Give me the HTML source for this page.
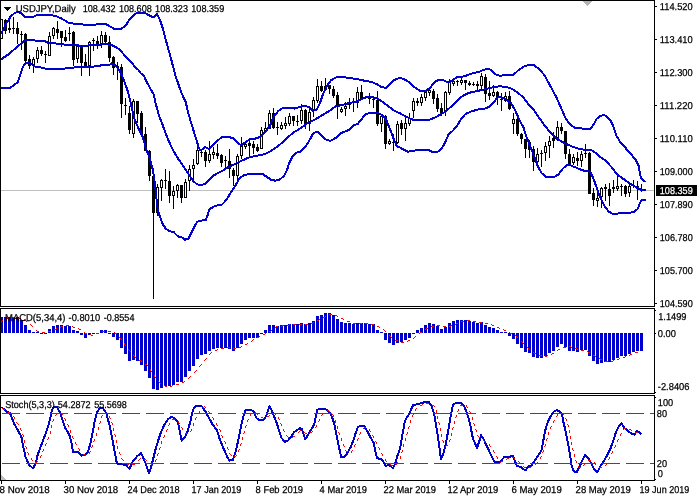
<!DOCTYPE html>
<html lang="en"><head><meta charset="utf-8"><title>USDJPY Daily</title>
<style>html,body{margin:0;padding:0;background:#fff;overflow:hidden}svg{display:block}text{font-family:"Liberation Sans",sans-serif;white-space:pre;text-rendering:geometricPrecision;stroke-width:0.25px}</style></head><body>
<svg width="700" height="500" viewBox="0 0 700 500">
<rect x="0" y="0" width="700" height="500" fill="#fff"/>
<g shape-rendering="crispEdges">
<rect x="1" y="190" width="653" height="1" fill="#c0c0c0"/>
<polygon points="583,1 592.5,1 587.75,6" fill="#b4b4b4"/>
<polygon points="1,475 1,480 6,480" fill="#c0c0c0"/>
<rect x="1" y="19" width="1" height="20" fill="#000"/>
<rect x="0" y="19" width="3" height="20" fill="#000"/>
<rect x="1" y="20" width="1" height="18" fill="#fff"/>
<rect x="5" y="19" width="1" height="15" fill="#000"/>
<rect x="4" y="20" width="3" height="11" fill="#000"/>
<rect x="9" y="16" width="1" height="17" fill="#000"/>
<rect x="8" y="28" width="3" height="2" fill="#000"/>
<rect x="13" y="17" width="1" height="17" fill="#000"/>
<rect x="12" y="28" width="3" height="1" fill="#000"/>
<rect x="17" y="22" width="1" height="22" fill="#000"/>
<rect x="16" y="28" width="3" height="6" fill="#000"/>
<rect x="21" y="31" width="1" height="19" fill="#000"/>
<rect x="20" y="34" width="3" height="1" fill="#000"/>
<rect x="25" y="33" width="1" height="29" fill="#000"/>
<rect x="24" y="34" width="3" height="27" fill="#000"/>
<rect x="29" y="55" width="1" height="14" fill="#000"/>
<rect x="28" y="59" width="3" height="7" fill="#000"/>
<rect x="33" y="57" width="1" height="16" fill="#000"/>
<rect x="32" y="59" width="3" height="6" fill="#000"/>
<rect x="33" y="60" width="1" height="4" fill="#fff"/>
<rect x="37" y="47" width="1" height="16" fill="#000"/>
<rect x="36" y="50" width="3" height="9" fill="#000"/>
<rect x="37" y="51" width="1" height="7" fill="#fff"/>
<rect x="41" y="46" width="1" height="10" fill="#000"/>
<rect x="40" y="50" width="3" height="4" fill="#000"/>
<rect x="45" y="51" width="1" height="12" fill="#000"/>
<rect x="44" y="54" width="3" height="1" fill="#000"/>
<rect x="49" y="32" width="1" height="24" fill="#000"/>
<rect x="48" y="36" width="3" height="20" fill="#000"/>
<rect x="49" y="37" width="1" height="18" fill="#fff"/>
<rect x="53" y="27" width="1" height="12" fill="#000"/>
<rect x="52" y="28" width="3" height="8" fill="#000"/>
<rect x="53" y="29" width="1" height="6" fill="#fff"/>
<rect x="57" y="21" width="1" height="18" fill="#000"/>
<rect x="56" y="29" width="3" height="4" fill="#000"/>
<rect x="61" y="31" width="1" height="16" fill="#000"/>
<rect x="60" y="31" width="3" height="7" fill="#000"/>
<rect x="65" y="30" width="1" height="12" fill="#000"/>
<rect x="64" y="37" width="3" height="4" fill="#000"/>
<rect x="69" y="27" width="1" height="14" fill="#000"/>
<rect x="68" y="33" width="3" height="1" fill="#000"/>
<rect x="73" y="31" width="1" height="35" fill="#000"/>
<rect x="72" y="32" width="3" height="28" fill="#000"/>
<rect x="77" y="46" width="1" height="17" fill="#000"/>
<rect x="76" y="46" width="3" height="13" fill="#000"/>
<rect x="77" y="47" width="1" height="11" fill="#fff"/>
<rect x="81" y="46" width="1" height="30" fill="#000"/>
<rect x="80" y="46" width="3" height="17" fill="#000"/>
<rect x="85" y="54" width="1" height="12" fill="#000"/>
<rect x="84" y="62" width="3" height="4" fill="#000"/>
<rect x="89" y="41" width="1" height="35" fill="#000"/>
<rect x="88" y="42" width="3" height="24" fill="#000"/>
<rect x="89" y="43" width="1" height="22" fill="#fff"/>
<rect x="93" y="38" width="1" height="13" fill="#000"/>
<rect x="92" y="40" width="3" height="1" fill="#000"/>
<rect x="97" y="36" width="1" height="13" fill="#000"/>
<rect x="96" y="41" width="3" height="4" fill="#000"/>
<rect x="101" y="31" width="1" height="17" fill="#000"/>
<rect x="100" y="35" width="3" height="9" fill="#000"/>
<rect x="101" y="36" width="1" height="7" fill="#fff"/>
<rect x="105" y="32" width="1" height="11" fill="#000"/>
<rect x="104" y="35" width="3" height="7" fill="#000"/>
<rect x="109" y="36" width="1" height="26" fill="#000"/>
<rect x="108" y="42" width="3" height="16" fill="#000"/>
<rect x="113" y="56" width="1" height="19" fill="#000"/>
<rect x="112" y="57" width="3" height="11" fill="#000"/>
<rect x="117" y="62" width="1" height="18" fill="#000"/>
<rect x="116" y="66" width="3" height="2" fill="#000"/>
<rect x="121" y="64" width="1" height="54" fill="#000"/>
<rect x="120" y="67" width="3" height="37" fill="#000"/>
<rect x="125" y="98" width="1" height="17" fill="#000"/>
<rect x="124" y="105" width="3" height="1" fill="#000"/>
<rect x="129" y="106" width="1" height="28" fill="#000"/>
<rect x="128" y="113" width="3" height="17" fill="#000"/>
<rect x="133" y="99" width="1" height="39" fill="#000"/>
<rect x="132" y="101" width="3" height="33" fill="#000"/>
<rect x="133" y="102" width="1" height="31" fill="#fff"/>
<rect x="137" y="101" width="1" height="22" fill="#000"/>
<rect x="136" y="101" width="3" height="13" fill="#000"/>
<rect x="141" y="111" width="1" height="24" fill="#000"/>
<rect x="140" y="113" width="3" height="21" fill="#000"/>
<rect x="145" y="127" width="1" height="24" fill="#000"/>
<rect x="144" y="134" width="3" height="17" fill="#000"/>
<rect x="149" y="150" width="1" height="31" fill="#000"/>
<rect x="148" y="151" width="3" height="25" fill="#000"/>
<rect x="153" y="175" width="1" height="124" fill="#000"/>
<rect x="152" y="176" width="3" height="37" fill="#000"/>
<rect x="157" y="184" width="1" height="32" fill="#000"/>
<rect x="156" y="187" width="3" height="26" fill="#000"/>
<rect x="157" y="188" width="1" height="24" fill="#fff"/>
<rect x="161" y="179" width="1" height="22" fill="#000"/>
<rect x="160" y="180" width="3" height="8" fill="#000"/>
<rect x="161" y="181" width="1" height="6" fill="#fff"/>
<rect x="165" y="169" width="1" height="20" fill="#000"/>
<rect x="164" y="180" width="3" height="1" fill="#000"/>
<rect x="169" y="171" width="1" height="32" fill="#000"/>
<rect x="168" y="181" width="3" height="15" fill="#000"/>
<rect x="173" y="186" width="1" height="23" fill="#000"/>
<rect x="172" y="191" width="3" height="5" fill="#000"/>
<rect x="173" y="192" width="1" height="3" fill="#fff"/>
<rect x="177" y="184" width="1" height="14" fill="#000"/>
<rect x="176" y="185" width="3" height="6" fill="#000"/>
<rect x="177" y="186" width="1" height="4" fill="#fff"/>
<rect x="181" y="185" width="1" height="18" fill="#000"/>
<rect x="180" y="185" width="3" height="13" fill="#000"/>
<rect x="185" y="179" width="1" height="19" fill="#000"/>
<rect x="184" y="182" width="3" height="16" fill="#000"/>
<rect x="185" y="183" width="1" height="14" fill="#fff"/>
<rect x="189" y="165" width="1" height="26" fill="#000"/>
<rect x="188" y="169" width="3" height="12" fill="#000"/>
<rect x="189" y="170" width="1" height="10" fill="#fff"/>
<rect x="193" y="159" width="1" height="22" fill="#000"/>
<rect x="192" y="165" width="3" height="4" fill="#000"/>
<rect x="193" y="166" width="1" height="2" fill="#fff"/>
<rect x="197" y="147" width="1" height="18" fill="#000"/>
<rect x="196" y="150" width="3" height="14" fill="#000"/>
<rect x="197" y="151" width="1" height="12" fill="#fff"/>
<rect x="201" y="149" width="1" height="8" fill="#000"/>
<rect x="200" y="152" width="3" height="1" fill="#000"/>
<rect x="205" y="150" width="1" height="17" fill="#000"/>
<rect x="204" y="152" width="3" height="9" fill="#000"/>
<rect x="209" y="141" width="1" height="22" fill="#000"/>
<rect x="208" y="154" width="3" height="7" fill="#000"/>
<rect x="209" y="155" width="1" height="5" fill="#fff"/>
<rect x="213" y="147" width="1" height="12" fill="#000"/>
<rect x="212" y="152" width="3" height="3" fill="#000"/>
<rect x="213" y="153" width="1" height="1" fill="#fff"/>
<rect x="217" y="144" width="1" height="15" fill="#000"/>
<rect x="216" y="153" width="3" height="3" fill="#000"/>
<rect x="221" y="154" width="1" height="13" fill="#000"/>
<rect x="220" y="155" width="3" height="8" fill="#000"/>
<rect x="225" y="156" width="1" height="13" fill="#000"/>
<rect x="224" y="160" width="3" height="1" fill="#000"/>
<rect x="229" y="149" width="1" height="29" fill="#000"/>
<rect x="228" y="161" width="3" height="8" fill="#000"/>
<rect x="233" y="168" width="1" height="18" fill="#000"/>
<rect x="232" y="170" width="3" height="6" fill="#000"/>
<rect x="237" y="154" width="1" height="27" fill="#000"/>
<rect x="236" y="156" width="3" height="20" fill="#000"/>
<rect x="237" y="157" width="1" height="18" fill="#fff"/>
<rect x="241" y="137" width="1" height="22" fill="#000"/>
<rect x="240" y="146" width="3" height="10" fill="#000"/>
<rect x="241" y="147" width="1" height="8" fill="#fff"/>
<rect x="245" y="141" width="1" height="8" fill="#000"/>
<rect x="244" y="144" width="3" height="3" fill="#000"/>
<rect x="245" y="145" width="1" height="1" fill="#fff"/>
<rect x="249" y="141" width="1" height="15" fill="#000"/>
<rect x="248" y="143" width="3" height="3" fill="#000"/>
<rect x="253" y="141" width="1" height="13" fill="#000"/>
<rect x="252" y="144" width="3" height="4" fill="#000"/>
<rect x="257" y="144" width="1" height="8" fill="#000"/>
<rect x="256" y="147" width="3" height="4" fill="#000"/>
<rect x="261" y="127" width="1" height="22" fill="#000"/>
<rect x="260" y="130" width="3" height="19" fill="#000"/>
<rect x="261" y="131" width="1" height="17" fill="#fff"/>
<rect x="265" y="122" width="1" height="9" fill="#000"/>
<rect x="264" y="128" width="3" height="3" fill="#000"/>
<rect x="265" y="129" width="1" height="1" fill="#fff"/>
<rect x="269" y="110" width="1" height="19" fill="#000"/>
<rect x="268" y="113" width="3" height="16" fill="#000"/>
<rect x="269" y="114" width="1" height="14" fill="#fff"/>
<rect x="273" y="108" width="1" height="21" fill="#000"/>
<rect x="272" y="113" width="3" height="15" fill="#000"/>
<rect x="277" y="122" width="1" height="13" fill="#000"/>
<rect x="276" y="127" width="3" height="1" fill="#000"/>
<rect x="281" y="122" width="1" height="8" fill="#000"/>
<rect x="280" y="125" width="3" height="4" fill="#000"/>
<rect x="281" y="126" width="1" height="2" fill="#fff"/>
<rect x="285" y="117" width="1" height="12" fill="#000"/>
<rect x="284" y="123" width="3" height="3" fill="#000"/>
<rect x="285" y="124" width="1" height="1" fill="#fff"/>
<rect x="289" y="113" width="1" height="13" fill="#000"/>
<rect x="288" y="116" width="3" height="8" fill="#000"/>
<rect x="289" y="117" width="1" height="6" fill="#fff"/>
<rect x="293" y="116" width="1" height="10" fill="#000"/>
<rect x="292" y="116" width="3" height="5" fill="#000"/>
<rect x="297" y="115" width="1" height="11" fill="#000"/>
<rect x="296" y="121" width="3" height="1" fill="#000"/>
<rect x="301" y="104" width="1" height="20" fill="#000"/>
<rect x="300" y="110" width="3" height="11" fill="#000"/>
<rect x="301" y="111" width="1" height="9" fill="#fff"/>
<rect x="305" y="109" width="1" height="20" fill="#000"/>
<rect x="304" y="110" width="3" height="15" fill="#000"/>
<rect x="309" y="109" width="1" height="22" fill="#000"/>
<rect x="308" y="112" width="3" height="12" fill="#000"/>
<rect x="309" y="113" width="1" height="10" fill="#fff"/>
<rect x="313" y="97" width="1" height="20" fill="#000"/>
<rect x="312" y="100" width="3" height="11" fill="#000"/>
<rect x="313" y="101" width="1" height="9" fill="#fff"/>
<rect x="317" y="79" width="1" height="24" fill="#000"/>
<rect x="316" y="86" width="3" height="15" fill="#000"/>
<rect x="317" y="87" width="1" height="13" fill="#fff"/>
<rect x="321" y="81" width="1" height="11" fill="#000"/>
<rect x="320" y="86" width="3" height="5" fill="#000"/>
<rect x="325" y="78" width="1" height="13" fill="#000"/>
<rect x="324" y="86" width="3" height="4" fill="#000"/>
<rect x="325" y="87" width="1" height="2" fill="#fff"/>
<rect x="329" y="85" width="1" height="9" fill="#000"/>
<rect x="328" y="85" width="3" height="4" fill="#000"/>
<rect x="333" y="86" width="1" height="12" fill="#000"/>
<rect x="332" y="89" width="3" height="7" fill="#000"/>
<rect x="337" y="92" width="1" height="27" fill="#000"/>
<rect x="336" y="95" width="3" height="12" fill="#000"/>
<rect x="341" y="107" width="1" height="6" fill="#000"/>
<rect x="340" y="109" width="3" height="3" fill="#000"/>
<rect x="341" y="110" width="1" height="1" fill="#fff"/>
<rect x="345" y="102" width="1" height="14" fill="#000"/>
<rect x="344" y="106" width="3" height="3" fill="#000"/>
<rect x="345" y="107" width="1" height="1" fill="#fff"/>
<rect x="349" y="98" width="1" height="11" fill="#000"/>
<rect x="348" y="102" width="3" height="3" fill="#000"/>
<rect x="353" y="98" width="1" height="14" fill="#000"/>
<rect x="352" y="102" width="3" height="1" fill="#000"/>
<rect x="357" y="87" width="1" height="21" fill="#000"/>
<rect x="356" y="92" width="3" height="11" fill="#000"/>
<rect x="357" y="93" width="1" height="9" fill="#fff"/>
<rect x="361" y="85" width="1" height="14" fill="#000"/>
<rect x="360" y="92" width="3" height="7" fill="#000"/>
<rect x="365" y="96" width="1" height="3" fill="#000"/>
<rect x="364" y="97" width="3" height="1" fill="#000"/>
<rect x="369" y="93" width="1" height="11" fill="#000"/>
<rect x="368" y="98" width="3" height="1" fill="#000"/>
<rect x="373" y="97" width="1" height="11" fill="#000"/>
<rect x="372" y="99" width="3" height="1" fill="#000"/>
<rect x="377" y="91" width="1" height="35" fill="#000"/>
<rect x="376" y="100" width="3" height="24" fill="#000"/>
<rect x="381" y="116" width="1" height="16" fill="#000"/>
<rect x="380" y="116" width="3" height="8" fill="#000"/>
<rect x="381" y="117" width="1" height="6" fill="#fff"/>
<rect x="385" y="115" width="1" height="34" fill="#000"/>
<rect x="384" y="116" width="3" height="28" fill="#000"/>
<rect x="389" y="139" width="1" height="6" fill="#000"/>
<rect x="388" y="141" width="3" height="3" fill="#000"/>
<rect x="389" y="142" width="1" height="1" fill="#fff"/>
<rect x="393" y="134" width="1" height="17" fill="#000"/>
<rect x="392" y="142" width="3" height="1" fill="#000"/>
<rect x="397" y="121" width="1" height="23" fill="#000"/>
<rect x="396" y="124" width="3" height="19" fill="#000"/>
<rect x="397" y="125" width="1" height="17" fill="#fff"/>
<rect x="401" y="120" width="1" height="15" fill="#000"/>
<rect x="400" y="123" width="3" height="6" fill="#000"/>
<rect x="405" y="118" width="1" height="23" fill="#000"/>
<rect x="404" y="123" width="3" height="6" fill="#000"/>
<rect x="405" y="124" width="1" height="4" fill="#fff"/>
<rect x="409" y="113" width="1" height="13" fill="#000"/>
<rect x="408" y="118" width="3" height="6" fill="#000"/>
<rect x="409" y="119" width="1" height="4" fill="#fff"/>
<rect x="413" y="98" width="1" height="20" fill="#000"/>
<rect x="412" y="101" width="3" height="10" fill="#000"/>
<rect x="413" y="102" width="1" height="8" fill="#fff"/>
<rect x="417" y="98" width="1" height="8" fill="#000"/>
<rect x="416" y="101" width="3" height="2" fill="#000"/>
<rect x="421" y="94" width="1" height="12" fill="#000"/>
<rect x="420" y="97" width="3" height="6" fill="#000"/>
<rect x="421" y="98" width="1" height="4" fill="#fff"/>
<rect x="425" y="91" width="1" height="10" fill="#000"/>
<rect x="424" y="92" width="3" height="6" fill="#000"/>
<rect x="425" y="93" width="1" height="4" fill="#fff"/>
<rect x="429" y="87" width="1" height="9" fill="#000"/>
<rect x="428" y="90" width="3" height="3" fill="#000"/>
<rect x="429" y="91" width="1" height="1" fill="#fff"/>
<rect x="433" y="89" width="1" height="15" fill="#000"/>
<rect x="432" y="91" width="3" height="8" fill="#000"/>
<rect x="437" y="94" width="1" height="18" fill="#000"/>
<rect x="436" y="98" width="3" height="11" fill="#000"/>
<rect x="441" y="103" width="1" height="13" fill="#000"/>
<rect x="440" y="108" width="3" height="5" fill="#000"/>
<rect x="445" y="91" width="1" height="25" fill="#000"/>
<rect x="444" y="92" width="3" height="19" fill="#000"/>
<rect x="445" y="93" width="1" height="17" fill="#fff"/>
<rect x="449" y="79" width="1" height="16" fill="#000"/>
<rect x="448" y="82" width="3" height="11" fill="#000"/>
<rect x="449" y="83" width="1" height="9" fill="#fff"/>
<rect x="453" y="80" width="1" height="6" fill="#000"/>
<rect x="452" y="81" width="3" height="3" fill="#000"/>
<rect x="453" y="82" width="1" height="1" fill="#fff"/>
<rect x="457" y="80" width="1" height="6" fill="#000"/>
<rect x="456" y="81" width="3" height="1" fill="#000"/>
<rect x="461" y="78" width="1" height="7" fill="#000"/>
<rect x="460" y="80" width="3" height="3" fill="#000"/>
<rect x="461" y="81" width="1" height="1" fill="#fff"/>
<rect x="465" y="80" width="1" height="10" fill="#000"/>
<rect x="464" y="80" width="3" height="3" fill="#000"/>
<rect x="469" y="81" width="1" height="5" fill="#000"/>
<rect x="468" y="83" width="3" height="2" fill="#000"/>
<rect x="473" y="82" width="1" height="4" fill="#000"/>
<rect x="472" y="84" width="3" height="1" fill="#000"/>
<rect x="477" y="81" width="1" height="9" fill="#000"/>
<rect x="476" y="84" width="3" height="2" fill="#000"/>
<rect x="481" y="73" width="1" height="16" fill="#000"/>
<rect x="480" y="76" width="3" height="10" fill="#000"/>
<rect x="481" y="77" width="1" height="8" fill="#fff"/>
<rect x="485" y="74" width="1" height="28" fill="#000"/>
<rect x="484" y="77" width="3" height="17" fill="#000"/>
<rect x="489" y="81" width="1" height="19" fill="#000"/>
<rect x="488" y="93" width="3" height="3" fill="#000"/>
<rect x="493" y="85" width="1" height="12" fill="#000"/>
<rect x="492" y="92" width="3" height="4" fill="#000"/>
<rect x="493" y="93" width="1" height="2" fill="#fff"/>
<rect x="497" y="91" width="1" height="14" fill="#000"/>
<rect x="496" y="92" width="3" height="5" fill="#000"/>
<rect x="501" y="93" width="1" height="18" fill="#000"/>
<rect x="500" y="99" width="3" height="1" fill="#000"/>
<rect x="505" y="92" width="1" height="10" fill="#000"/>
<rect x="504" y="96" width="3" height="5" fill="#000"/>
<rect x="505" y="97" width="1" height="3" fill="#fff"/>
<rect x="509" y="91" width="1" height="19" fill="#000"/>
<rect x="508" y="96" width="3" height="13" fill="#000"/>
<rect x="513" y="113" width="1" height="21" fill="#000"/>
<rect x="512" y="119" width="3" height="5" fill="#000"/>
<rect x="513" y="120" width="1" height="3" fill="#fff"/>
<rect x="517" y="117" width="1" height="19" fill="#000"/>
<rect x="516" y="119" width="3" height="15" fill="#000"/>
<rect x="521" y="133" width="1" height="11" fill="#000"/>
<rect x="520" y="134" width="3" height="5" fill="#000"/>
<rect x="525" y="139" width="1" height="19" fill="#000"/>
<rect x="524" y="139" width="3" height="10" fill="#000"/>
<rect x="529" y="140" width="1" height="18" fill="#000"/>
<rect x="528" y="142" width="3" height="8" fill="#000"/>
<rect x="533" y="146" width="1" height="25" fill="#000"/>
<rect x="532" y="149" width="3" height="13" fill="#000"/>
<rect x="537" y="148" width="1" height="17" fill="#000"/>
<rect x="536" y="154" width="3" height="8" fill="#000"/>
<rect x="537" y="155" width="1" height="6" fill="#fff"/>
<rect x="541" y="150" width="1" height="17" fill="#000"/>
<rect x="540" y="153" width="3" height="1" fill="#000"/>
<rect x="545" y="142" width="1" height="19" fill="#000"/>
<rect x="544" y="146" width="3" height="7" fill="#000"/>
<rect x="545" y="147" width="1" height="5" fill="#fff"/>
<rect x="549" y="136" width="1" height="22" fill="#000"/>
<rect x="548" y="141" width="3" height="5" fill="#000"/>
<rect x="549" y="142" width="1" height="3" fill="#fff"/>
<rect x="553" y="132" width="1" height="16" fill="#000"/>
<rect x="552" y="138" width="3" height="3" fill="#000"/>
<rect x="557" y="121" width="1" height="20" fill="#000"/>
<rect x="556" y="127" width="3" height="11" fill="#000"/>
<rect x="557" y="128" width="1" height="9" fill="#fff"/>
<rect x="561" y="123" width="1" height="11" fill="#000"/>
<rect x="560" y="127" width="3" height="4" fill="#000"/>
<rect x="565" y="131" width="1" height="28" fill="#000"/>
<rect x="564" y="131" width="3" height="23" fill="#000"/>
<rect x="569" y="149" width="1" height="15" fill="#000"/>
<rect x="568" y="154" width="3" height="10" fill="#000"/>
<rect x="573" y="154" width="1" height="11" fill="#000"/>
<rect x="572" y="157" width="3" height="6" fill="#000"/>
<rect x="573" y="158" width="1" height="4" fill="#fff"/>
<rect x="577" y="152" width="1" height="14" fill="#000"/>
<rect x="576" y="158" width="3" height="3" fill="#000"/>
<rect x="581" y="151" width="1" height="16" fill="#000"/>
<rect x="580" y="154" width="3" height="7" fill="#000"/>
<rect x="581" y="155" width="1" height="5" fill="#fff"/>
<rect x="585" y="144" width="1" height="14" fill="#000"/>
<rect x="584" y="153" width="3" height="1" fill="#000"/>
<rect x="589" y="152" width="1" height="42" fill="#000"/>
<rect x="588" y="153" width="3" height="41" fill="#000"/>
<rect x="593" y="188" width="1" height="18" fill="#000"/>
<rect x="592" y="193" width="3" height="7" fill="#000"/>
<rect x="597" y="192" width="1" height="15" fill="#000"/>
<rect x="596" y="198" width="3" height="3" fill="#000"/>
<rect x="597" y="199" width="1" height="1" fill="#fff"/>
<rect x="601" y="187" width="1" height="21" fill="#000"/>
<rect x="600" y="188" width="3" height="9" fill="#000"/>
<rect x="601" y="189" width="1" height="7" fill="#fff"/>
<rect x="605" y="184" width="1" height="17" fill="#000"/>
<rect x="604" y="187" width="3" height="2" fill="#000"/>
<rect x="609" y="183" width="1" height="23" fill="#000"/>
<rect x="608" y="189" width="3" height="7" fill="#000"/>
<rect x="613" y="180" width="1" height="13" fill="#000"/>
<rect x="612" y="187" width="3" height="2" fill="#000"/>
<rect x="617" y="176" width="1" height="15" fill="#000"/>
<rect x="616" y="186" width="3" height="3" fill="#000"/>
<rect x="617" y="187" width="1" height="1" fill="#fff"/>
<rect x="621" y="184" width="1" height="12" fill="#000"/>
<rect x="620" y="186" width="3" height="1" fill="#000"/>
<rect x="625" y="185" width="1" height="12" fill="#000"/>
<rect x="624" y="186" width="3" height="8" fill="#000"/>
<rect x="629" y="184" width="1" height="13" fill="#000"/>
<rect x="628" y="186" width="3" height="7" fill="#000"/>
<rect x="629" y="187" width="1" height="5" fill="#fff"/>
<rect x="633" y="180" width="1" height="8" fill="#000"/>
<rect x="632" y="185" width="3" height="1" fill="#000"/>
<rect x="637" y="181" width="1" height="19" fill="#000"/>
<rect x="636" y="186" width="3" height="1" fill="#000"/>
<rect x="641" y="184" width="1" height="8" fill="#000"/>
<rect x="640" y="189" width="3" height="1" fill="#000"/>
</g>
<g shape-rendering="crispEdges" stroke-linejoin="round" stroke-linecap="butt">
<polyline points="0.0,34.0 1.7,32.9 5.7,24.3 11.4,15.7 14.9,12.9 17.7,11.7 20.6,12.9 24.6,17.0 33.0,17.0 35.4,15.7 40.0,14.8 47.0,14.7 52.0,15.3 57.0,16.4 62.9,19.3 68.6,22.9 77.0,24.0 85.7,24.7 94.3,24.7 100.0,24.0 105.7,24.0 110.0,26.4 113.6,28.6 121.4,28.6 125.7,25.7 130.0,18.6 134.3,14.3 138.6,12.6 144.3,12.6 148.6,15.0 153.6,17.4 157.0,14.3 160.0,20.0 162.9,28.6 167.0,44.3 171.4,60.0 175.7,77.0 177.0,80.0 181.4,92.9 185.7,102.0 188.6,114.3 192.9,128.6 198.6,147.0 200.0,150.0 202.9,149.3 205.0,146.9 209.3,149.3 214.3,143.6 221.4,137.4 228.6,137.0 233.6,138.3 237.9,142.9 241.4,145.4 245.7,142.0 250.0,139.3 257.0,138.3 261.4,135.7 265.7,131.4 270.0,125.7 273.6,117.0 277.9,111.4 282.9,107.9 288.6,107.9 294.3,108.6 300.0,107.0 304.3,105.7 308.6,107.0 312.9,110.7 317.0,109.3 320.0,102.9 322.9,94.3 327.0,85.7 331.4,80.0 335.7,77.6 341.4,76.9 348.6,77.9 357.0,79.0 364.3,80.7 371.4,81.9 377.0,84.3 381.4,87.0 385.7,87.9 390.0,84.3 394.3,80.0 400.0,77.8 405.7,80.0 410.0,82.9 414.3,87.0 420.0,90.7 425.7,91.0 430.0,87.9 434.3,82.6 437.9,80.0 442.9,80.0 448.6,82.6 452.9,80.0 457.0,77.0 464.3,76.4 471.4,73.6 478.6,72.0 484.3,69.7 487.9,68.9 491.4,70.0 495.7,74.3 500.0,76.0 505.7,74.7 513.6,74.7 518.6,70.0 524.3,66.4 528.6,65.0 533.6,65.0 538.6,68.6 544.3,75.0 548.6,82.9 552.9,90.7 557.0,98.6 561.4,108.6 565.7,118.6 570.0,124.3 574.3,127.5 580.0,128.2 584.6,128.8 590.3,128.6 593.7,124.6 596.6,118.9 600.0,116.0 604.0,114.9 607.4,117.0 610.9,121.0 613.7,127.4 616.6,136.0 620.0,141.7 625.7,148.0 627.0,150.0 631.4,154.5 635.7,160.0 638.6,165.7 640.0,174.3 641.4,178.6 643.6,180.7 645.7,182.0" fill="none" stroke="#0000cd" stroke-width="2" />
<polyline points="0.0,60.0 8.6,54.3 17.0,47.0 25.7,40.0 28.6,40.0 37.0,40.7 44.3,41.0 48.6,42.9 57.0,43.6 65.7,44.7 74.3,45.4 85.7,45.7 94.3,45.0 100.0,44.7 103.4,43.9 110.0,44.7 113.0,45.7 114.3,46.4 118.9,49.0 120.0,50.0 124.3,55.0 131.4,62.5 135.4,67.4 138.6,70.0 140.0,72.6 144.3,76.4 145.7,80.0 150.0,87.9 153.6,94.3 155.7,103.6 158.6,114.3 162.9,125.7 167.0,137.0 172.9,150.0 177.0,157.0 182.9,165.7 188.6,174.3 192.9,180.7 197.0,184.3 200.0,184.8 205.0,184.3 208.6,180.0 214.3,175.0 221.4,171.4 228.6,167.0 235.7,163.6 242.9,160.2 250.0,157.0 257.0,155.8 264.3,154.3 270.0,151.5 271.4,150.7 278.6,145.7 285.7,139.3 292.9,132.9 300.0,128.6 307.0,123.6 314.3,120.0 321.4,115.7 328.6,111.4 335.7,106.4 342.9,104.7 350.0,102.9 357.0,101.4 361.4,99.3 365.7,97.4 371.4,97.0 377.0,98.3 382.9,102.0 388.6,106.4 394.3,110.7 400.0,113.3 405.7,116.5 412.9,119.7 421.4,119.7 430.7,119.5 437.0,116.4 445.7,111.4 452.0,105.8 457.0,100.7 462.9,95.7 468.6,92.9 475.7,91.4 482.9,89.7 488.6,88.3 494.3,87.0 500.0,86.3 505.7,86.9 511.4,88.6 517.0,92.0 522.9,97.0 528.6,104.3 534.3,110.7 538.6,117.0 544.3,125.0 550.0,132.0 555.7,137.9 561.4,141.4 567.0,144.3 574.3,147.4 581.4,149.4 588.6,150.0 591.4,150.2 595.7,152.9 601.4,157.9 605.7,160.7 611.4,167.0 617.0,174.3 622.9,178.6 630.0,183.6 635.7,187.0 641.4,190.0 645.7,190.0" fill="none" stroke="#0000cd" stroke-width="2" />
<polyline points="0.0,88.0 10.0,88.0 17.5,82.5 18.6,80.0 22.9,67.0 25.7,62.9 30.0,62.9 34.3,66.4 42.9,67.9 48.6,69.3 60.0,69.3 68.6,67.9 80.0,67.0 88.6,67.0 100.0,65.9 102.3,64.6 109.7,64.6 111.4,63.4 113.4,63.7 116.0,66.3 119.4,70.3 121.7,74.9 123.4,79.0 127.9,91.4 130.7,102.9 134.3,118.6 138.6,128.6 142.9,137.0 145.7,148.0 149.3,157.0 152.9,170.0 155.0,184.3 156.4,198.6 157.9,210.0 160.0,217.0 162.9,224.3 165.7,228.6 170.0,231.4 173.6,232.0 177.9,236.4 181.4,237.0 185.0,239.7 188.6,238.6 191.4,232.9 194.3,227.0 197.0,222.0 200.0,220.7 205.7,220.0 207.9,214.3 209.3,209.3 214.3,206.4 218.6,205.0 222.0,204.6 225.7,200.7 230.7,192.9 235.7,185.0 239.3,178.6 242.9,175.7 248.6,174.0 257.0,173.6 262.9,174.3 267.0,177.0 271.4,180.0 275.7,180.7 280.0,179.3 284.3,175.7 287.0,170.0 289.3,162.9 292.9,155.7 297.0,152.6 300.0,151.8 304.3,147.9 308.6,142.0 312.9,133.6 316.4,131.7 319.3,132.9 322.9,137.0 327.0,140.3 330.7,140.7 335.7,137.9 341.4,132.9 348.6,130.0 353.6,125.0 357.9,124.0 361.4,119.3 365.7,114.0 371.4,112.9 377.9,113.0 382.0,115.0 385.7,118.6 388.6,125.7 391.4,132.9 394.3,140.7 397.0,146.4 400.0,147.5 404.3,150.0 407.9,151.7 412.9,151.0 418.6,149.7 428.6,150.0 432.0,151.7 437.9,151.7 441.4,148.6 445.0,142.9 448.6,134.3 452.9,130.7 457.0,125.7 461.4,118.6 465.7,113.8 471.4,111.4 478.6,109.3 485.7,108.4 490.0,106.2 494.3,102.0 497.0,97.9 500.0,97.0 505.7,99.3 510.7,102.9 514.3,108.5 517.5,115.7 521.0,123.0 523.5,127.5 526.4,137.0 530.0,145.7 534.3,157.0 537.9,166.4 541.4,172.9 545.7,176.9 554.3,177.0 558.6,174.3 562.9,168.6 566.4,165.4 569.3,164.7 574.3,167.0 577.0,167.9 581.4,170.0 584.3,170.7 589.3,170.7 592.0,175.0 595.0,182.9 597.9,191.4 601.4,200.0 605.0,207.0 608.6,211.4 612.0,213.6 617.0,213.6 621.4,212.9 628.6,212.9 634.3,212.0 637.9,208.6 640.0,202.9 642.0,200.0 645.7,199.7" fill="none" stroke="#0000cd" stroke-width="2" />
</g>
<g shape-rendering="crispEdges">
<rect x="0" y="317" width="3" height="16" fill="#0000cd"/>
<rect x="4" y="317" width="3" height="16" fill="#0000cd"/>
<rect x="8" y="317" width="3" height="16" fill="#0000cd"/>
<rect x="12" y="317" width="3" height="16" fill="#0000cd"/>
<rect x="16" y="317" width="3" height="16" fill="#0000cd"/>
<rect x="20" y="320" width="3" height="13" fill="#0000cd"/>
<rect x="24" y="325" width="3" height="8" fill="#0000cd"/>
<rect x="28" y="330" width="3" height="3" fill="#0000cd"/>
<rect x="32" y="332" width="3" height="1" fill="#0000cd"/>
<rect x="36" y="332" width="3" height="1" fill="#0000cd"/>
<rect x="40" y="333" width="3" height="1" fill="#0000cd"/>
<rect x="44" y="333" width="3" height="1" fill="#0000cd"/>
<rect x="48" y="329" width="3" height="4" fill="#0000cd"/>
<rect x="52" y="326" width="3" height="7" fill="#0000cd"/>
<rect x="56" y="325" width="3" height="8" fill="#0000cd"/>
<rect x="60" y="325" width="3" height="8" fill="#0000cd"/>
<rect x="64" y="326" width="3" height="7" fill="#0000cd"/>
<rect x="68" y="326" width="3" height="7" fill="#0000cd"/>
<rect x="72" y="330" width="3" height="3" fill="#0000cd"/>
<rect x="76" y="331" width="3" height="2" fill="#0000cd"/>
<rect x="80" y="333" width="3" height="2" fill="#0000cd"/>
<rect x="84" y="333" width="3" height="5" fill="#0000cd"/>
<rect x="88" y="333" width="3" height="2" fill="#0000cd"/>
<rect x="92" y="333" width="3" height="1" fill="#0000cd"/>
<rect x="96" y="333" width="3" height="1" fill="#0000cd"/>
<rect x="100" y="330" width="3" height="3" fill="#0000cd"/>
<rect x="104" y="330" width="3" height="3" fill="#0000cd"/>
<rect x="108" y="333" width="3" height="1" fill="#0000cd"/>
<rect x="112" y="333" width="3" height="4" fill="#0000cd"/>
<rect x="116" y="333" width="3" height="7" fill="#0000cd"/>
<rect x="120" y="333" width="3" height="15" fill="#0000cd"/>
<rect x="124" y="333" width="3" height="21" fill="#0000cd"/>
<rect x="128" y="333" width="3" height="28" fill="#0000cd"/>
<rect x="132" y="333" width="3" height="27" fill="#0000cd"/>
<rect x="136" y="333" width="3" height="28" fill="#0000cd"/>
<rect x="140" y="333" width="3" height="32" fill="#0000cd"/>
<rect x="144" y="333" width="3" height="38" fill="#0000cd"/>
<rect x="148" y="333" width="3" height="45" fill="#0000cd"/>
<rect x="152" y="333" width="3" height="56" fill="#0000cd"/>
<rect x="156" y="333" width="3" height="57" fill="#0000cd"/>
<rect x="160" y="333" width="3" height="55" fill="#0000cd"/>
<rect x="164" y="333" width="3" height="53" fill="#0000cd"/>
<rect x="168" y="333" width="3" height="53" fill="#0000cd"/>
<rect x="172" y="333" width="3" height="52" fill="#0000cd"/>
<rect x="176" y="333" width="3" height="49" fill="#0000cd"/>
<rect x="180" y="333" width="3" height="49" fill="#0000cd"/>
<rect x="184" y="333" width="3" height="44" fill="#0000cd"/>
<rect x="188" y="333" width="3" height="38" fill="#0000cd"/>
<rect x="192" y="333" width="3" height="33" fill="#0000cd"/>
<rect x="196" y="333" width="3" height="26" fill="#0000cd"/>
<rect x="200" y="333" width="3" height="22" fill="#0000cd"/>
<rect x="204" y="333" width="3" height="21" fill="#0000cd"/>
<rect x="208" y="333" width="3" height="18" fill="#0000cd"/>
<rect x="212" y="333" width="3" height="16" fill="#0000cd"/>
<rect x="216" y="333" width="3" height="15" fill="#0000cd"/>
<rect x="220" y="333" width="3" height="15" fill="#0000cd"/>
<rect x="224" y="333" width="3" height="15" fill="#0000cd"/>
<rect x="228" y="333" width="3" height="16" fill="#0000cd"/>
<rect x="232" y="333" width="3" height="18" fill="#0000cd"/>
<rect x="236" y="333" width="3" height="15" fill="#0000cd"/>
<rect x="240" y="333" width="3" height="11" fill="#0000cd"/>
<rect x="244" y="333" width="3" height="7" fill="#0000cd"/>
<rect x="248" y="333" width="3" height="5" fill="#0000cd"/>
<rect x="252" y="333" width="3" height="5" fill="#0000cd"/>
<rect x="256" y="333" width="3" height="5" fill="#0000cd"/>
<rect x="260" y="333" width="3" height="1" fill="#0000cd"/>
<rect x="264" y="330" width="3" height="3" fill="#0000cd"/>
<rect x="268" y="325" width="3" height="8" fill="#0000cd"/>
<rect x="272" y="325" width="3" height="8" fill="#0000cd"/>
<rect x="276" y="326" width="3" height="7" fill="#0000cd"/>
<rect x="280" y="325" width="3" height="8" fill="#0000cd"/>
<rect x="284" y="325" width="3" height="8" fill="#0000cd"/>
<rect x="288" y="324" width="3" height="9" fill="#0000cd"/>
<rect x="292" y="324" width="3" height="9" fill="#0000cd"/>
<rect x="296" y="324" width="3" height="9" fill="#0000cd"/>
<rect x="300" y="323" width="3" height="10" fill="#0000cd"/>
<rect x="304" y="324" width="3" height="9" fill="#0000cd"/>
<rect x="308" y="323" width="3" height="10" fill="#0000cd"/>
<rect x="312" y="321" width="3" height="12" fill="#0000cd"/>
<rect x="316" y="316" width="3" height="17" fill="#0000cd"/>
<rect x="320" y="315" width="3" height="18" fill="#0000cd"/>
<rect x="324" y="313" width="3" height="20" fill="#0000cd"/>
<rect x="328" y="313" width="3" height="20" fill="#0000cd"/>
<rect x="332" y="315" width="3" height="18" fill="#0000cd"/>
<rect x="336" y="319" width="3" height="14" fill="#0000cd"/>
<rect x="340" y="322" width="3" height="11" fill="#0000cd"/>
<rect x="344" y="323" width="3" height="10" fill="#0000cd"/>
<rect x="348" y="323" width="3" height="10" fill="#0000cd"/>
<rect x="352" y="324" width="3" height="9" fill="#0000cd"/>
<rect x="356" y="323" width="3" height="10" fill="#0000cd"/>
<rect x="360" y="323" width="3" height="10" fill="#0000cd"/>
<rect x="364" y="323" width="3" height="10" fill="#0000cd"/>
<rect x="368" y="324" width="3" height="9" fill="#0000cd"/>
<rect x="372" y="324" width="3" height="9" fill="#0000cd"/>
<rect x="376" y="330" width="3" height="3" fill="#0000cd"/>
<rect x="380" y="332" width="3" height="1" fill="#0000cd"/>
<rect x="384" y="333" width="3" height="7" fill="#0000cd"/>
<rect x="388" y="333" width="3" height="10" fill="#0000cd"/>
<rect x="392" y="333" width="3" height="12" fill="#0000cd"/>
<rect x="396" y="333" width="3" height="10" fill="#0000cd"/>
<rect x="400" y="333" width="3" height="9" fill="#0000cd"/>
<rect x="404" y="333" width="3" height="7" fill="#0000cd"/>
<rect x="408" y="333" width="3" height="5" fill="#0000cd"/>
<rect x="412" y="333" width="3" height="1" fill="#0000cd"/>
<rect x="416" y="330" width="3" height="3" fill="#0000cd"/>
<rect x="420" y="328" width="3" height="5" fill="#0000cd"/>
<rect x="424" y="325" width="3" height="8" fill="#0000cd"/>
<rect x="428" y="323" width="3" height="10" fill="#0000cd"/>
<rect x="432" y="324" width="3" height="9" fill="#0000cd"/>
<rect x="436" y="326" width="3" height="7" fill="#0000cd"/>
<rect x="440" y="329" width="3" height="4" fill="#0000cd"/>
<rect x="444" y="327" width="3" height="6" fill="#0000cd"/>
<rect x="448" y="323" width="3" height="10" fill="#0000cd"/>
<rect x="452" y="321" width="3" height="12" fill="#0000cd"/>
<rect x="456" y="320" width="3" height="13" fill="#0000cd"/>
<rect x="460" y="320" width="3" height="13" fill="#0000cd"/>
<rect x="464" y="320" width="3" height="13" fill="#0000cd"/>
<rect x="468" y="321" width="3" height="12" fill="#0000cd"/>
<rect x="472" y="322" width="3" height="11" fill="#0000cd"/>
<rect x="476" y="323" width="3" height="10" fill="#0000cd"/>
<rect x="480" y="322" width="3" height="11" fill="#0000cd"/>
<rect x="484" y="325" width="3" height="8" fill="#0000cd"/>
<rect x="488" y="327" width="3" height="6" fill="#0000cd"/>
<rect x="492" y="328" width="3" height="5" fill="#0000cd"/>
<rect x="496" y="330" width="3" height="3" fill="#0000cd"/>
<rect x="500" y="332" width="3" height="1" fill="#0000cd"/>
<rect x="504" y="332" width="3" height="1" fill="#0000cd"/>
<rect x="508" y="333" width="3" height="3" fill="#0000cd"/>
<rect x="512" y="333" width="3" height="6" fill="#0000cd"/>
<rect x="516" y="333" width="3" height="11" fill="#0000cd"/>
<rect x="520" y="333" width="3" height="15" fill="#0000cd"/>
<rect x="524" y="333" width="3" height="19" fill="#0000cd"/>
<rect x="528" y="333" width="3" height="20" fill="#0000cd"/>
<rect x="532" y="333" width="3" height="24" fill="#0000cd"/>
<rect x="536" y="333" width="3" height="25" fill="#0000cd"/>
<rect x="540" y="333" width="3" height="25" fill="#0000cd"/>
<rect x="544" y="333" width="3" height="23" fill="#0000cd"/>
<rect x="548" y="333" width="3" height="20" fill="#0000cd"/>
<rect x="552" y="333" width="3" height="18" fill="#0000cd"/>
<rect x="556" y="333" width="3" height="14" fill="#0000cd"/>
<rect x="560" y="333" width="3" height="11" fill="#0000cd"/>
<rect x="564" y="333" width="3" height="14" fill="#0000cd"/>
<rect x="568" y="333" width="3" height="18" fill="#0000cd"/>
<rect x="572" y="333" width="3" height="18" fill="#0000cd"/>
<rect x="576" y="333" width="3" height="19" fill="#0000cd"/>
<rect x="580" y="333" width="3" height="17" fill="#0000cd"/>
<rect x="584" y="333" width="3" height="17" fill="#0000cd"/>
<rect x="588" y="333" width="3" height="23" fill="#0000cd"/>
<rect x="592" y="333" width="3" height="28" fill="#0000cd"/>
<rect x="596" y="333" width="3" height="31" fill="#0000cd"/>
<rect x="600" y="333" width="3" height="30" fill="#0000cd"/>
<rect x="604" y="333" width="3" height="29" fill="#0000cd"/>
<rect x="608" y="333" width="3" height="29" fill="#0000cd"/>
<rect x="612" y="333" width="3" height="27" fill="#0000cd"/>
<rect x="616" y="333" width="3" height="25" fill="#0000cd"/>
<rect x="620" y="333" width="3" height="23" fill="#0000cd"/>
<rect x="624" y="333" width="3" height="23" fill="#0000cd"/>
<rect x="628" y="333" width="3" height="21" fill="#0000cd"/>
<rect x="632" y="333" width="3" height="19" fill="#0000cd"/>
<rect x="636" y="333" width="3" height="18" fill="#0000cd"/>
<rect x="640" y="333" width="3" height="18" fill="#0000cd"/>
</g>
<g shape-rendering="crispEdges">
<path d="M329 314h3v1h-3zM335 315h2v1h-2zM325 316h1v1h-1zM337 316h1v1h-1zM12 317h3v1h-3zM323 317h2v1h-2zM6 318h3v1h-3zM18 318h3v1h-3zM341 318h2v1h-2zM319 319h1v1h-1zM343 319h1v1h-1zM2 320h1v1h-1zM24 320h2v1h-2zM317 320h2v1h-2zM467 320h3v1h-3zM0 321h2v1h-2zM26 321h1v1h-1zM347 321h3v1h-3zM461 321h3v1h-3zM473 321h3v1h-3zM313 322h1v1h-1zM479 322h3v1h-3zM311 323h2v1h-2zM353 323h3v1h-3zM359 323h3v1h-3zM365 323h3v1h-3zM456 323h2v1h-2zM485 323h3v1h-3zM30 324h1v1h-1zM289 324h1v1h-1zM293 324h3v1h-3zM299 324h3v1h-3zM305 324h3v1h-3zM371 324h3v1h-3zM455 324h1v1h-1zM491 324h1v1h-1zM31 325h1v1h-1zM66 325h3v1h-3zM282 325h2v1h-2zM287 325h2v1h-2zM437 325h3v1h-3zM451 325h1v1h-1zM492 325h2v1h-2zM32 326h1v1h-1zM61 326h2v1h-2zM72 326h1v1h-1zM276 326h2v1h-2zM281 326h1v1h-1zM377 326h2v1h-2zM431 326h3v1h-3zM443 326h3v1h-3zM449 326h2v1h-2zM60 327h1v1h-1zM73 327h2v1h-2zM275 327h1v1h-1zM379 327h1v1h-1zM497 327h2v1h-2zM56 328h1v1h-1zM78 328h1v1h-1zM426 328h2v1h-2zM499 328h1v1h-1zM54 329h2v1h-2zM79 329h2v1h-2zM383 329h1v1h-1zM425 329h1v1h-1zM503 329h1v1h-1zM36 330h1v1h-1zM271 330h1v1h-1zM384 330h1v1h-1zM504 330h2v1h-2zM37 331h2v1h-2zM48 331h3v1h-3zM102 331h3v1h-3zM108 331h3v1h-3zM269 331h2v1h-2zM385 331h1v1h-1zM42 332h3v1h-3zM84 332h1v1h-1zM114 332h1v1h-1zM420 332h2v1h-2zM509 332h1v1h-1zM85 333h2v1h-2zM96 333h3v1h-3zM115 333h2v1h-2zM265 333h1v1h-1zM419 333h1v1h-1zM510 333h2v1h-2zM90 334h1v1h-1zM263 334h2v1h-2zM91 335h2v1h-2zM389 335h1v1h-1zM515 335h1v1h-1zM259 336h1v1h-1zM390 336h1v1h-1zM415 336h1v1h-1zM516 336h1v1h-1zM119 337h1v1h-1zM257 337h2v1h-2zM391 337h1v1h-1zM414 337h1v1h-1zM517 337h1v1h-1zM120 338h1v1h-1zM413 338h1v1h-1zM121 339h1v1h-1zM253 339h1v1h-1zM252 340h1v1h-1zM395 340h3v1h-3zM408 340h2v1h-2zM251 341h1v1h-1zM407 341h1v1h-1zM521 341h1v1h-1zM401 342h3v1h-3zM522 342h1v1h-1zM124 343h1v1h-1zM247 343h1v1h-1zM523 343h1v1h-1zM124 344h1v1h-1zM245 344h2v1h-2zM125 345h1v1h-1zM241 346h1v1h-1zM569 346h2v1h-2zM227 347h3v1h-3zM239 347h2v1h-2zM527 347h1v1h-1zM563 347h3v1h-3zM571 347h1v1h-1zM221 348h3v1h-3zM233 348h3v1h-3zM528 348h1v1h-1zM575 348h2v1h-2zM128 349h1v1h-1zM217 349h1v1h-1zM529 349h1v1h-1zM558 349h2v1h-2zM577 349h1v1h-1zM129 350h1v1h-1zM215 350h2v1h-2zM557 350h1v1h-1zM581 350h3v1h-3zM130 351h1v1h-1zM587 351h1v1h-1zM211 352h1v1h-1zM533 352h1v1h-1zM588 352h2v1h-2zM635 352h3v1h-3zM210 353h1v1h-1zM534 353h2v1h-2zM552 353h2v1h-2zM209 354h1v1h-1zM551 354h1v1h-1zM630 354h2v1h-2zM133 355h1v1h-1zM539 355h3v1h-3zM547 355h1v1h-1zM593 355h2v1h-2zM629 355h1v1h-1zM134 356h1v1h-1zM545 356h2v1h-2zM595 356h1v1h-1zM625 356h1v1h-1zM135 357h1v1h-1zM623 357h2v1h-2zM206 358h1v1h-1zM599 358h1v1h-1zM619 358h1v1h-1zM205 359h1v1h-1zM600 359h2v1h-2zM617 359h2v1h-2zM139 360h2v1h-2zM204 360h1v1h-1zM613 360h1v1h-1zM141 361h1v1h-1zM605 361h3v1h-3zM611 361h2v1h-2zM145 364h2v1h-2zM201 364h1v1h-1zM147 365h1v1h-1zM200 365h1v1h-1zM199 366h1v1h-1zM150 369h1v1h-1zM150 370h1v1h-1zM196 370h1v1h-1zM151 371h1v1h-1zM195 371h1v1h-1zM194 372h1v1h-1zM154 375h1v1h-1zM154 376h1v1h-1zM190 376h1v1h-1zM155 377h1v1h-1zM189 377h1v1h-1zM188 378h1v1h-1zM158 381h1v1h-1zM184 381h1v1h-1zM159 382h1v1h-1zM182 382h2v1h-2zM160 383h1v1h-1zM176 384h3v1h-3zM164 385h1v1h-1zM172 385h1v1h-1zM165 386h2v1h-2zM170 386h2v1h-2z" fill="#ff0000"/>
</g>
<g shape-rendering="crispEdges" stroke-linejoin="round">
<polyline points="1.4,406.9 5.7,411.0 10.0,413.3 14.3,424.0 17.9,430.4 21.4,436.9 23.6,448.3 25.7,457.5 29.3,465.0 32.9,468.3 35.7,463.6 37.5,455.5 40.0,448.3 42.9,441.0 47.0,429.7 50.0,419.7 52.0,409.7 53.6,407.0 57.0,407.0 60.0,412.6 62.9,421.0 65.0,427.6 69.3,434.7 71.4,442.6 73.0,451.9 77.9,451.9 81.4,455.7 85.0,454.7 87.9,451.9 90.7,442.6 92.9,431.0 95.0,419.7 97.0,411.9 100.0,408.0 102.9,407.9 106.4,413.6 109.3,424.3 112.0,437.0 114.3,450.0 116.9,463.6 121.4,464.3 125.7,465.0 129.3,468.8 132.9,461.4 137.0,456.4 141.0,453.0 142.9,457.0 145.7,463.6 149.0,473.0 150.7,468.6 152.9,460.0 155.0,451.4 157.9,441.4 160.7,432.9 164.3,425.0 167.9,419.3 171.4,416.9 174.3,417.9 177.9,422.0 180.0,432.9 181.7,440.7 185.0,437.0 187.9,430.7 190.7,420.0 192.9,410.0 195.7,406.0 200.0,405.6 202.0,406.4 205.7,412.0 209.3,418.6 212.9,425.0 217.0,430.0 220.0,440.0 223.6,448.6 227.0,456.4 229.3,460.7 232.9,460.0 235.7,451.4 238.6,438.6 241.4,424.3 243.6,415.7 245.4,410.3 250.7,410.0 253.6,411.4 256.4,417.9 258.6,419.7 263.6,419.7 266.4,415.7 269.3,406.4 271.4,410.0 274.3,417.0 277.0,423.6 279.3,431.4 281.4,437.9 285.0,441.7 287.9,440.7 291.4,436.4 294.3,432.0 297.9,429.7 300.0,428.2 302.0,429.3 305.4,439.3 307.9,435.0 311.4,429.3 314.3,424.3 316.0,415.7 317.4,409.7 321.4,408.9 325.7,409.3 329.3,412.0 332.0,417.0 334.3,423.6 336.4,434.3 338.6,445.7 341.4,457.4 343.6,457.0 347.0,453.6 350.7,447.0 353.6,440.0 355.7,432.9 357.9,427.0 360.7,426.0 364.3,426.4 367.0,430.7 370.0,436.4 373.6,442.9 375.7,452.9 377.0,458.3 381.4,458.9 383.6,462.0 385.7,465.7 389.3,465.0 392.9,468.3 395.0,464.3 397.0,457.0 400.0,449.0 402.0,437.0 405.0,420.7 409.3,413.6 412.9,405.4 417.0,404.3 422.9,402.6 428.6,401.7 431.4,405.7 434.3,414.3 436.4,427.0 438.6,441.4 441.0,459.3 443.6,452.9 445.7,444.3 448.6,428.6 450.7,415.7 452.9,405.0 455.7,402.9 460.7,402.9 464.3,406.4 467.0,412.9 470.0,423.6 472.9,438.6 477.0,447.9 479.3,441.4 481.0,435.0 483.6,439.3 487.0,446.4 490.7,454.3 494.3,461.4 497.0,462.6 500.0,462.0 504.3,457.0 508.6,456.9 512.9,456.0 515.0,461.4 517.0,466.0 520.7,466.9 523.6,469.3 525.7,470.0 528.6,466.4 532.0,465.0 535.0,460.0 538.6,455.0 541.4,450.7 542.9,442.9 545.0,431.4 547.9,421.4 550.7,416.4 553.6,411.7 557.0,410.0 560.0,412.0 562.0,414.3 563.6,422.9 565.7,431.4 567.9,442.9 570.0,454.3 571.4,464.3 572.9,469.5 574.3,471.7 577.0,471.7 579.3,467.0 582.0,461.0 585.4,454.8 588.6,458.6 591.7,464.3 594.3,469.3 597.0,472.6 600.0,467.0 603.6,461.4 607.0,455.7 610.7,447.9 613.6,440.0 615.7,432.9 617.9,427.9 621.4,423.0 624.3,427.9 627.9,430.7 631.4,433.6 634.3,434.6 637.0,431.0 639.3,432.0 641.4,434.0" fill="none" stroke="#0000cd" stroke-width="2" />
<rect x="2" y="413" width="18" height="1" fill="#ff0000"/>
<rect x="26" y="413" width="18" height="1" fill="#ff0000"/>
<rect x="50" y="413" width="18" height="1" fill="#ff0000"/>
<rect x="74" y="413" width="18" height="1" fill="#ff0000"/>
<rect x="98" y="413" width="18" height="1" fill="#ff0000"/>
<rect x="122" y="413" width="18" height="1" fill="#ff0000"/>
<rect x="146" y="413" width="18" height="1" fill="#ff0000"/>
<rect x="170" y="413" width="18" height="1" fill="#ff0000"/>
<rect x="194" y="413" width="18" height="1" fill="#ff0000"/>
<rect x="218" y="413" width="18" height="1" fill="#ff0000"/>
<rect x="242" y="413" width="18" height="1" fill="#ff0000"/>
<rect x="266" y="413" width="18" height="1" fill="#ff0000"/>
<rect x="290" y="413" width="18" height="1" fill="#ff0000"/>
<rect x="314" y="413" width="18" height="1" fill="#ff0000"/>
<rect x="338" y="413" width="18" height="1" fill="#ff0000"/>
<rect x="362" y="413" width="18" height="1" fill="#ff0000"/>
<rect x="386" y="413" width="18" height="1" fill="#ff0000"/>
<rect x="410" y="413" width="18" height="1" fill="#ff0000"/>
<rect x="434" y="413" width="18" height="1" fill="#ff0000"/>
<rect x="458" y="413" width="18" height="1" fill="#ff0000"/>
<rect x="482" y="413" width="18" height="1" fill="#ff0000"/>
<rect x="506" y="413" width="18" height="1" fill="#ff0000"/>
<rect x="530" y="413" width="18" height="1" fill="#ff0000"/>
<rect x="554" y="413" width="18" height="1" fill="#ff0000"/>
<rect x="578" y="413" width="18" height="1" fill="#ff0000"/>
<rect x="602" y="413" width="18" height="1" fill="#ff0000"/>
<rect x="626" y="413" width="18" height="1" fill="#ff0000"/>
<rect x="650" y="413" width="4" height="1" fill="#ff0000"/>
<rect x="2" y="463" width="18" height="1" fill="#ff0000"/>
<rect x="26" y="463" width="18" height="1" fill="#ff0000"/>
<rect x="50" y="463" width="18" height="1" fill="#ff0000"/>
<rect x="74" y="463" width="18" height="1" fill="#ff0000"/>
<rect x="98" y="463" width="18" height="1" fill="#ff0000"/>
<rect x="122" y="463" width="18" height="1" fill="#ff0000"/>
<rect x="146" y="463" width="18" height="1" fill="#ff0000"/>
<rect x="170" y="463" width="18" height="1" fill="#ff0000"/>
<rect x="194" y="463" width="18" height="1" fill="#ff0000"/>
<rect x="218" y="463" width="18" height="1" fill="#ff0000"/>
<rect x="242" y="463" width="18" height="1" fill="#ff0000"/>
<rect x="266" y="463" width="18" height="1" fill="#ff0000"/>
<rect x="290" y="463" width="18" height="1" fill="#ff0000"/>
<rect x="314" y="463" width="18" height="1" fill="#ff0000"/>
<rect x="338" y="463" width="18" height="1" fill="#ff0000"/>
<rect x="362" y="463" width="18" height="1" fill="#ff0000"/>
<rect x="386" y="463" width="18" height="1" fill="#ff0000"/>
<rect x="410" y="463" width="18" height="1" fill="#ff0000"/>
<rect x="434" y="463" width="18" height="1" fill="#ff0000"/>
<rect x="458" y="463" width="18" height="1" fill="#ff0000"/>
<rect x="482" y="463" width="18" height="1" fill="#ff0000"/>
<rect x="506" y="463" width="18" height="1" fill="#ff0000"/>
<rect x="530" y="463" width="18" height="1" fill="#ff0000"/>
<rect x="554" y="463" width="18" height="1" fill="#ff0000"/>
<rect x="578" y="463" width="18" height="1" fill="#ff0000"/>
<rect x="602" y="463" width="18" height="1" fill="#ff0000"/>
<rect x="626" y="463" width="18" height="1" fill="#ff0000"/>
<rect x="650" y="463" width="4" height="1" fill="#ff0000"/>
<path d="M426 403h3v1h-3zM422 404h1v1h-1zM420 405h2v1h-2zM432 405h2v1h-2zM460 405h3v1h-3zM466 405h1v1h-1zM204 406h1v1h-1zM434 406h1v1h-1zM466 406h1v1h-1zM203 407h1v1h-1zM205 407h1v1h-1zM467 407h1v1h-1zM2 408h1v1h-1zM416 408h1v1h-1zM3 409h2v1h-2zM415 409h1v1h-1zM458 409h1v1h-1zM327 410h2v1h-2zM415 410h1v1h-1zM436 410h1v1h-1zM458 410h1v1h-1zM199 411h1v1h-1zM208 411h1v1h-1zM329 411h1v1h-1zM436 411h1v1h-1zM457 411h1v1h-1zM469 411h1v1h-1zM8 412h2v1h-2zM199 412h1v1h-1zM209 412h1v1h-1zM255 412h1v1h-1zM436 412h1v1h-1zM470 412h1v1h-1zM10 413h1v1h-1zM57 413h1v1h-1zM60 413h2v1h-2zM104 413h3v1h-3zM198 413h1v1h-1zM210 413h1v1h-1zM251 413h1v1h-1zM256 413h1v1h-1zM273 413h2v1h-2zM323 413h1v1h-1zM470 413h1v1h-1zM561 413h2v1h-2zM56 414h1v1h-1zM62 414h1v1h-1zM250 414h1v1h-1zM257 414h1v1h-1zM275 414h1v1h-1zM322 414h1v1h-1zM332 414h1v1h-1zM413 414h1v1h-1zM557 414h1v1h-1zM563 414h1v1h-1zM55 415h1v1h-1zM102 415h1v1h-1zM250 415h1v1h-1zM269 415h1v1h-1zM321 415h1v1h-1zM333 415h1v1h-1zM412 415h1v1h-1zM456 415h1v1h-1zM557 415h1v1h-1zM13 416h1v1h-1zM101 416h1v1h-1zM109 416h1v1h-1zM267 416h2v1h-2zM333 416h1v1h-1zM412 416h1v1h-1zM437 416h1v1h-1zM456 416h1v1h-1zM556 416h1v1h-1zM14 417h1v1h-1zM101 417h1v1h-1zM109 417h1v1h-1zM196 417h1v1h-1zM212 417h1v1h-1zM261 417h2v1h-2zM278 417h1v1h-1zM437 417h1v1h-1zM455 417h1v1h-1zM472 417h1v1h-1zM14 418h1v1h-1zM64 418h1v1h-1zM110 418h1v1h-1zM195 418h1v1h-1zM213 418h1v1h-1zM263 418h1v1h-1zM278 418h1v1h-1zM437 418h1v1h-1zM472 418h1v1h-1zM565 418h1v1h-1zM53 419h1v1h-1zM65 419h1v1h-1zM172 419h3v1h-3zM195 419h1v1h-1zM213 419h1v1h-1zM248 419h1v1h-1zM279 419h1v1h-1zM319 419h1v1h-1zM472 419h1v1h-1zM566 419h1v1h-1zM53 420h1v1h-1zM65 420h1v1h-1zM247 420h1v1h-1zM319 420h1v1h-1zM335 420h1v1h-1zM410 420h1v1h-1zM554 420h1v1h-1zM566 420h1v1h-1zM52 421h1v1h-1zM100 421h1v1h-1zM178 421h1v1h-1zM247 421h1v1h-1zM318 421h1v1h-1zM335 421h1v1h-1zM410 421h1v1h-1zM454 421h1v1h-1zM553 421h1v1h-1zM16 422h1v1h-1zM100 422h1v1h-1zM111 422h1v1h-1zM178 422h1v1h-1zM335 422h1v1h-1zM410 422h1v1h-1zM438 422h1v1h-1zM454 422h1v1h-1zM553 422h1v1h-1zM17 423h1v1h-1zM99 423h1v1h-1zM112 423h1v1h-1zM169 423h1v1h-1zM179 423h1v1h-1zM193 423h1v1h-1zM216 423h1v1h-1zM280 423h1v1h-1zM439 423h1v1h-1zM454 423h1v1h-1zM473 423h1v1h-1zM18 424h1v1h-1zM67 424h1v1h-1zM112 424h1v1h-1zM169 424h1v1h-1zM193 424h1v1h-1zM216 424h1v1h-1zM281 424h1v1h-1zM439 424h1v1h-1zM474 424h1v1h-1zM567 424h1v1h-1zM51 425h1v1h-1zM68 425h1v1h-1zM168 425h1v1h-1zM193 425h1v1h-1zM217 425h1v1h-1zM246 425h1v1h-1zM281 425h1v1h-1zM316 425h1v1h-1zM474 425h1v1h-1zM568 425h1v1h-1zM51 426h1v1h-1zM68 426h1v1h-1zM245 426h1v1h-1zM316 426h1v1h-1zM337 426h1v1h-1zM409 426h1v1h-1zM551 426h1v1h-1zM568 426h1v1h-1zM51 427h1v1h-1zM98 427h1v1h-1zM181 427h1v1h-1zM245 427h1v1h-1zM315 427h1v1h-1zM337 427h1v1h-1zM364 427h2v1h-2zM408 427h1v1h-1zM453 427h1v1h-1zM550 427h1v1h-1zM20 428h1v1h-1zM98 428h1v1h-1zM113 428h1v1h-1zM182 428h1v1h-1zM337 428h1v1h-1zM363 428h1v1h-1zM408 428h1v1h-1zM440 428h1v1h-1zM452 428h1v1h-1zM550 428h1v1h-1zM624 428h2v1h-2zM20 429h1v1h-1zM98 429h1v1h-1zM113 429h1v1h-1zM167 429h1v1h-1zM182 429h1v1h-1zM191 429h1v1h-1zM219 429h1v1h-1zM283 429h1v1h-1zM369 429h1v1h-1zM440 429h1v1h-1zM452 429h1v1h-1zM475 429h1v1h-1zM623 429h1v1h-1zM629 429h2v1h-2zM21 430h1v1h-1zM70 430h1v1h-1zM113 430h1v1h-1zM166 430h1v1h-1zM191 430h1v1h-1zM220 430h1v1h-1zM283 430h1v1h-1zM300 430h1v1h-1zM369 430h1v1h-1zM440 430h1v1h-1zM476 430h1v1h-1zM569 430h1v1h-1zM631 430h1v1h-1zM50 431h1v1h-1zM70 431h1v1h-1zM166 431h1v1h-1zM190 431h1v1h-1zM220 431h1v1h-1zM244 431h1v1h-1zM284 431h1v1h-1zM299 431h1v1h-1zM312 431h1v1h-1zM370 431h1v1h-1zM476 431h1v1h-1zM569 431h1v1h-1zM50 432h1v1h-1zM70 432h1v1h-1zM244 432h1v1h-1zM298 432h1v1h-1zM304 432h1v1h-1zM310 432h2v1h-2zM338 432h1v1h-1zM360 432h1v1h-1zM407 432h1v1h-1zM548 432h1v1h-1zM569 432h1v1h-1zM635 432h3v1h-3zM50 433h1v1h-1zM96 433h1v1h-1zM185 433h3v1h-3zM243 433h1v1h-1zM305 433h2v1h-2zM339 433h1v1h-1zM360 433h1v1h-1zM407 433h1v1h-1zM451 433h1v1h-1zM548 433h1v1h-1zM621 433h1v1h-1zM22 434h1v1h-1zM96 434h1v1h-1zM114 434h1v1h-1zM339 434h1v1h-1zM359 434h1v1h-1zM406 434h1v1h-1zM441 434h1v1h-1zM451 434h1v1h-1zM548 434h1v1h-1zM620 434h1v1h-1zM23 435h1v1h-1zM96 435h1v1h-1zM115 435h1v1h-1zM164 435h1v1h-1zM221 435h1v1h-1zM286 435h1v1h-1zM372 435h1v1h-1zM441 435h1v1h-1zM451 435h1v1h-1zM477 435h1v1h-1zM620 435h1v1h-1zM23 436h1v1h-1zM72 436h1v1h-1zM115 436h1v1h-1zM164 436h1v1h-1zM222 436h1v1h-1zM287 436h1v1h-1zM293 436h2v1h-2zM373 436h1v1h-1zM441 436h1v1h-1zM478 436h1v1h-1zM570 436h1v1h-1zM48 437h1v1h-1zM72 437h1v1h-1zM163 437h1v1h-1zM222 437h1v1h-1zM242 437h1v1h-1zM288 437h1v1h-1zM292 437h1v1h-1zM373 437h1v1h-1zM479 437h1v1h-1zM570 437h1v1h-1zM48 438h1v1h-1zM73 438h1v1h-1zM242 438h1v1h-1zM341 438h1v1h-1zM358 438h1v1h-1zM405 438h1v1h-1zM547 438h1v1h-1zM570 438h1v1h-1zM47 439h1v1h-1zM94 439h1v1h-1zM242 439h1v1h-1zM341 439h1v1h-1zM357 439h1v1h-1zM405 439h1v1h-1zM450 439h1v1h-1zM546 439h1v1h-1zM618 439h1v1h-1zM24 440h1v1h-1zM94 440h1v1h-1zM116 440h1v1h-1zM341 440h1v1h-1zM357 440h1v1h-1zM405 440h1v1h-1zM442 440h1v1h-1zM449 440h1v1h-1zM483 440h1v1h-1zM546 440h1v1h-1zM617 440h1v1h-1zM24 441h1v1h-1zM93 441h1v1h-1zM116 441h1v1h-1zM161 441h1v1h-1zM224 441h1v1h-1zM375 441h1v1h-1zM443 441h1v1h-1zM449 441h1v1h-1zM484 441h2v1h-2zM617 441h1v1h-1zM24 442h1v1h-1zM75 442h1v1h-1zM116 442h1v1h-1zM161 442h1v1h-1zM225 442h1v1h-1zM376 442h1v1h-1zM443 442h1v1h-1zM571 442h1v1h-1zM46 443h1v1h-1zM75 443h1v1h-1zM161 443h1v1h-1zM225 443h1v1h-1zM241 443h1v1h-1zM376 443h1v1h-1zM571 443h1v1h-1zM45 444h1v1h-1zM76 444h1v1h-1zM240 444h1v1h-1zM343 444h1v1h-1zM355 444h1v1h-1zM403 444h1v1h-1zM489 444h1v1h-1zM545 444h1v1h-1zM571 444h1v1h-1zM45 445h1v1h-1zM92 445h1v1h-1zM240 445h1v1h-1zM343 445h1v1h-1zM354 445h1v1h-1zM403 445h1v1h-1zM446 445h2v1h-2zM489 445h1v1h-1zM545 445h1v1h-1zM615 445h1v1h-1zM25 446h1v1h-1zM92 446h1v1h-1zM117 446h1v1h-1zM344 446h1v1h-1zM354 446h1v1h-1zM403 446h1v1h-1zM445 446h1v1h-1zM490 446h1v1h-1zM544 446h1v1h-1zM615 446h1v1h-1zM26 447h1v1h-1zM91 447h1v1h-1zM117 447h1v1h-1zM160 447h1v1h-1zM227 447h1v1h-1zM378 447h1v1h-1zM614 447h1v1h-1zM26 448h1v1h-1zM78 448h1v1h-1zM117 448h1v1h-1zM159 448h1v1h-1zM227 448h1v1h-1zM379 448h1v1h-1zM572 448h1v1h-1zM43 449h1v1h-1zM79 449h1v1h-1zM159 449h1v1h-1zM228 449h1v1h-1zM239 449h1v1h-1zM379 449h1v1h-1zM572 449h1v1h-1zM43 450h1v1h-1zM79 450h1v1h-1zM238 450h1v1h-1zM345 450h1v1h-1zM352 450h1v1h-1zM402 450h1v1h-1zM493 450h1v1h-1zM543 450h1v1h-1zM573 450h1v1h-1zM42 451h1v1h-1zM90 451h1v1h-1zM238 451h1v1h-1zM346 451h2v1h-2zM351 451h1v1h-1zM402 451h1v1h-1zM493 451h1v1h-1zM543 451h1v1h-1zM612 451h1v1h-1zM27 452h1v1h-1zM89 452h1v1h-1zM119 452h1v1h-1zM351 452h1v1h-1zM401 452h1v1h-1zM494 452h1v1h-1zM542 452h1v1h-1zM612 452h1v1h-1zM28 453h1v1h-1zM89 453h1v1h-1zM119 453h1v1h-1zM158 453h1v1h-1zM229 453h1v1h-1zM381 453h1v1h-1zM611 453h1v1h-1zM28 454h1v1h-1zM83 454h2v1h-2zM120 454h1v1h-1zM157 454h1v1h-1zM230 454h1v1h-1zM382 454h1v1h-1zM574 454h1v1h-1zM41 455h1v1h-1zM85 455h1v1h-1zM157 455h1v1h-1zM231 455h1v1h-1zM236 455h1v1h-1zM382 455h1v1h-1zM574 455h1v1h-1zM40 456h1v1h-1zM234 456h2v1h-2zM400 456h1v1h-1zM496 456h1v1h-1zM541 456h1v1h-1zM574 456h1v1h-1zM40 457h1v1h-1zM400 457h1v1h-1zM497 457h1v1h-1zM512 457h2v1h-2zM540 457h1v1h-1zM609 457h1v1h-1zM31 458h1v1h-1zM121 458h1v1h-1zM140 458h1v1h-1zM400 458h1v1h-1zM497 458h1v1h-1zM507 458h2v1h-2zM514 458h1v1h-1zM540 458h1v1h-1zM609 458h1v1h-1zM31 459h1v1h-1zM122 459h1v1h-1zM139 459h1v1h-1zM144 459h2v1h-2zM156 459h1v1h-1zM385 459h1v1h-1zM506 459h1v1h-1zM608 459h1v1h-1zM32 460h1v1h-1zM123 460h1v1h-1zM138 460h1v1h-1zM146 460h1v1h-1zM155 460h1v1h-1zM385 460h1v1h-1zM575 460h1v1h-1zM588 460h3v1h-3zM37 461h1v1h-1zM155 461h1v1h-1zM386 461h1v1h-1zM501 461h2v1h-2zM518 461h1v1h-1zM576 461h1v1h-1zM35 462h2v1h-2zM397 462h1v1h-1zM500 462h1v1h-1zM519 462h1v1h-1zM537 462h1v1h-1zM576 462h1v1h-1zM594 462h1v1h-1zM126 463h1v1h-1zM150 463h1v1h-1zM397 463h1v1h-1zM519 463h1v1h-1zM536 463h1v1h-1zM584 463h1v1h-1zM595 463h1v1h-1zM606 463h1v1h-1zM127 464h2v1h-2zM132 464h3v1h-3zM151 464h1v1h-1zM390 464h1v1h-1zM396 464h1v1h-1zM535 464h1v1h-1zM584 464h1v1h-1zM595 464h1v1h-1zM606 464h1v1h-1zM152 465h1v1h-1zM391 465h2v1h-2zM583 465h1v1h-1zM605 465h1v1h-1zM523 466h1v1h-1zM531 466h1v1h-1zM578 466h1v1h-1zM524 467h2v1h-2zM529 467h2v1h-2zM579 467h2v1h-2zM599 467h3v1h-3z" fill="#ff0000"/>
</g>
<g shape-rendering="crispEdges">
<rect x="0" y="0" width="655" height="1" fill="#000"/>
<rect x="0" y="306" width="655" height="1" fill="#000"/>
<rect x="0" y="0" width="1" height="307" fill="#000"/>
<rect x="654" y="0" width="1" height="307" fill="#000"/>
<rect x="0" y="308" width="655" height="1" fill="#000"/>
<rect x="0" y="393" width="655" height="1" fill="#000"/>
<rect x="0" y="308" width="1" height="86" fill="#000"/>
<rect x="654" y="308" width="1" height="86" fill="#000"/>
<rect x="0" y="395" width="655" height="1" fill="#000"/>
<rect x="0" y="480" width="655" height="1" fill="#000"/>
<rect x="0" y="395" width="1" height="86" fill="#000"/>
<rect x="654" y="395" width="1" height="86" fill="#000"/>
<rect x="655" y="6" width="2" height="1" fill="#000"/>
<rect x="655" y="39" width="2" height="1" fill="#000"/>
<rect x="655" y="72" width="2" height="1" fill="#000"/>
<rect x="655" y="105" width="2" height="1" fill="#000"/>
<rect x="655" y="138" width="2" height="1" fill="#000"/>
<rect x="655" y="171" width="2" height="1" fill="#000"/>
<rect x="655" y="204" width="2" height="1" fill="#000"/>
<rect x="655" y="237" width="2" height="1" fill="#000"/>
<rect x="655" y="270" width="2" height="1" fill="#000"/>
<rect x="655" y="303" width="2" height="1" fill="#000"/>
<rect x="655" y="310" width="1" height="1" fill="#000"/>
<rect x="655" y="333" width="1" height="1" fill="#000"/>
<rect x="655" y="392" width="1" height="1" fill="#000"/>
<rect x="655" y="397" width="1" height="1" fill="#000"/>
<rect x="655" y="479" width="1" height="1" fill="#000"/>
<rect x="1" y="481" width="1" height="3" fill="#000"/>
<rect x="65" y="481" width="1" height="3" fill="#000"/>
<rect x="129" y="481" width="1" height="3" fill="#000"/>
<rect x="193" y="481" width="1" height="3" fill="#000"/>
<rect x="257" y="481" width="1" height="3" fill="#000"/>
<rect x="321" y="481" width="1" height="3" fill="#000"/>
<rect x="385" y="481" width="1" height="3" fill="#000"/>
<rect x="449" y="481" width="1" height="3" fill="#000"/>
<rect x="513" y="481" width="1" height="3" fill="#000"/>
<rect x="577" y="481" width="1" height="3" fill="#000"/>
<rect x="641" y="481" width="1" height="3" fill="#000"/>
<rect x="656" y="185" width="41" height="11" fill="#000"/>
<rect x="4" y="7" width="7" height="1" fill="#000"/>
<rect x="5" y="8" width="5" height="1" fill="#000"/>
<rect x="6" y="9" width="3" height="1" fill="#000"/>
<rect x="7" y="10" width="1" height="1" fill="#000"/>
</g>
<text x="15.7" y="12" fill="#000" stroke="#000" font-size="10" textLength="60" lengthAdjust="spacingAndGlyphs">USDJPY,Daily</text>
<text x="82.7" y="12" fill="#000" stroke="#000" font-size="10" textLength="32.9" lengthAdjust="spacingAndGlyphs">108.432</text>
<text x="118.9" y="12" fill="#000" stroke="#000" font-size="10" textLength="32.9" lengthAdjust="spacingAndGlyphs">108.608</text>
<text x="155.1" y="12" fill="#000" stroke="#000" font-size="10" textLength="32.9" lengthAdjust="spacingAndGlyphs">108.323</text>
<text x="191.3" y="12" fill="#000" stroke="#000" font-size="10" textLength="32.9" lengthAdjust="spacingAndGlyphs">108.359</text>
<text x="659.8" y="10" fill="#000" stroke="#000" font-size="10" textLength="32.9" lengthAdjust="spacingAndGlyphs">114.520</text>
<text x="659.8" y="43" fill="#000" stroke="#000" font-size="10" textLength="32.9" lengthAdjust="spacingAndGlyphs">113.410</text>
<text x="659.8" y="76" fill="#000" stroke="#000" font-size="10" textLength="32.9" lengthAdjust="spacingAndGlyphs">112.300</text>
<text x="659.8" y="109" fill="#000" stroke="#000" font-size="10" textLength="32.9" lengthAdjust="spacingAndGlyphs">111.220</text>
<text x="659.8" y="142" fill="#000" stroke="#000" font-size="10" textLength="32.9" lengthAdjust="spacingAndGlyphs">110.110</text>
<text x="659.8" y="175" fill="#000" stroke="#000" font-size="10" textLength="32.9" lengthAdjust="spacingAndGlyphs">109.000</text>
<text x="659.8" y="208" fill="#000" stroke="#000" font-size="10" textLength="32.9" lengthAdjust="spacingAndGlyphs">107.890</text>
<text x="659.8" y="241" fill="#000" stroke="#000" font-size="10" textLength="32.9" lengthAdjust="spacingAndGlyphs">106.780</text>
<text x="659.8" y="274" fill="#000" stroke="#000" font-size="10" textLength="32.9" lengthAdjust="spacingAndGlyphs">105.700</text>
<text x="659.8" y="307" fill="#000" stroke="#000" font-size="10" textLength="32.9" lengthAdjust="spacingAndGlyphs">104.590</text>
<text x="659.8" y="194" fill="#fff" stroke="#fff" font-size="10" textLength="32.9" lengthAdjust="spacingAndGlyphs">108.359</text>
<text x="5" y="321" fill="#000" stroke="#000" font-size="10" textLength="60.5" lengthAdjust="spacingAndGlyphs">MACD(5,34,4)</text>
<text x="68.6" y="321" fill="#000" stroke="#000" font-size="10" textLength="31.5" lengthAdjust="spacingAndGlyphs">-0.8010</text>
<text x="103.8" y="321" fill="#000" stroke="#000" font-size="10" textLength="30.6" lengthAdjust="spacingAndGlyphs">-0.8554</text>
<text x="658.2" y="320" fill="#000" stroke="#000" font-size="10" textLength="28.3" lengthAdjust="spacingAndGlyphs">1.1499</text>
<text x="657.8" y="337" fill="#000" stroke="#000" font-size="10" textLength="18.1" lengthAdjust="spacingAndGlyphs">0.00</text>
<text x="657.8" y="390" fill="#000" stroke="#000" font-size="10" textLength="31.7" lengthAdjust="spacingAndGlyphs">-2.8406</text>
<text x="5.2" y="408" fill="#000" stroke="#000" font-size="10" textLength="49.6" lengthAdjust="spacingAndGlyphs">Stoch(5,3,3)</text>
<text x="57.8" y="408" fill="#000" stroke="#000" font-size="10" textLength="32.8" lengthAdjust="spacingAndGlyphs">54.2872</text>
<text x="94.2" y="408" fill="#000" stroke="#000" font-size="10" textLength="32.6" lengthAdjust="spacingAndGlyphs">55.5698</text>
<text x="657.8" y="406" fill="#000" stroke="#000" font-size="10" textLength="15.3" lengthAdjust="spacingAndGlyphs">100</text>
<text x="656.8" y="417" fill="#000" stroke="#000" font-size="10" textLength="10.2" lengthAdjust="spacingAndGlyphs">80</text>
<text x="656.8" y="467" fill="#000" stroke="#000" font-size="10" textLength="10.2" lengthAdjust="spacingAndGlyphs">20</text>
<text x="657.8" y="477" fill="#000" stroke="#000" font-size="10" textLength="5.1" lengthAdjust="spacingAndGlyphs">0</text>
<text x="-0.4" y="493" fill="#000" stroke="#000" font-size="10" textLength="50" lengthAdjust="spacingAndGlyphs">8 Nov 2018</text>
<text x="63.6" y="493" fill="#000" stroke="#000" font-size="10" textLength="54.6" lengthAdjust="spacingAndGlyphs">30 Nov 2018</text>
<text x="127.6" y="493" fill="#000" stroke="#000" font-size="10" textLength="52" lengthAdjust="spacingAndGlyphs">24 Dec 2018</text>
<text x="191.6" y="493" fill="#000" stroke="#000" font-size="10" textLength="49.8" lengthAdjust="spacingAndGlyphs">17 Jan 2019</text>
<text x="255.6" y="493" fill="#000" stroke="#000" font-size="10" textLength="47.5" lengthAdjust="spacingAndGlyphs">8 Feb 2019</text>
<text x="319.6" y="493" fill="#000" stroke="#000" font-size="10" textLength="47.3" lengthAdjust="spacingAndGlyphs">4 Mar 2019</text>
<text x="383.6" y="493" fill="#000" stroke="#000" font-size="10" textLength="52.4" lengthAdjust="spacingAndGlyphs">22 Mar 2019</text>
<text x="447.6" y="493" fill="#000" stroke="#000" font-size="10" textLength="50.6" lengthAdjust="spacingAndGlyphs">12 Apr 2019</text>
<text x="511.6" y="493" fill="#000" stroke="#000" font-size="10" textLength="50.2" lengthAdjust="spacingAndGlyphs">6 May 2019</text>
<text x="575.6" y="493" fill="#000" stroke="#000" font-size="10" textLength="55.2" lengthAdjust="spacingAndGlyphs">28 May 2019</text>
<text x="639.6" y="493" fill="#000" stroke="#000" font-size="10" textLength="49.6" lengthAdjust="spacingAndGlyphs">19 Jun 2019</text>
</svg></body></html>
